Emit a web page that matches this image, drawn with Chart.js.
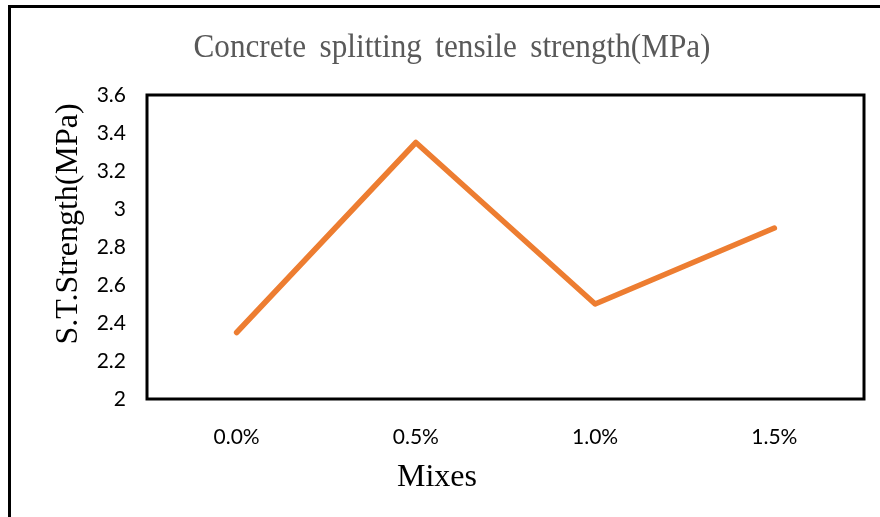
<!DOCTYPE html>
<html>
<head>
<meta charset="utf-8">
<script src="https://cdn.jsdelivr.net/npm/chart.js@4"></script>
<style>
  body { margin: 0; background: #fff; }
  #wrap { width: 880px; height: 517px; position: relative; }
</style>
</head>
<body>
<div id="wrap"><canvas id="stChart"></canvas></div>
<script>
const mixes = ["0.0%", "0.5%", "1.0%", "1.5%"];
const strength = [2.35, 3.35, 2.5, 2.9];
const yTicks = [2, 2.2, 2.4, 2.6, 2.8, 3, 3.2, 3.4, 3.6];

const chartTitle = "Concrete splitting tensile strength(MPa)";
const yTitle = "S.T.Strength(MPa)";
const xTitle = "Mixes";

// frame, plot box and the hand-placed texts, Excel style
const decor = {
    id: "decor",
    beforeDraw(chart) {
        const ctx = chart.ctx;
        ctx.save();
        ctx.fillStyle = "#fff";
        ctx.fillRect(0, 0, chart.width, chart.height);
        ctx.strokeStyle = "#000";
        ctx.lineWidth = 3;
        ctx.beginPath();
        ctx.moveTo(9.5, chart.height + 2);
        ctx.lineTo(9.5, 6.5);
        ctx.lineTo(chart.width + 2, 6.5);
        ctx.stroke();
        ctx.restore();
    },
    afterDraw(chart) {
        const ctx = chart.ctx;
        const a = chart.chartArea;
        ctx.save();
        ctx.strokeStyle = "#000";
        ctx.lineWidth = 3;
        ctx.strokeRect(a.left, a.top, a.right - a.left, a.bottom - a.top);

        ctx.textAlign = "center";
        ctx.textBaseline = "middle";
        ctx.fillStyle = "#595959";
        ctx.font = "33px 'Liberation Serif'";
        ctx.wordSpacing = "6px";
        ctx.fillText(chartTitle, 452, 48, 517);
        ctx.wordSpacing = "0px";

        ctx.fillStyle = "#000";
        ctx.font = "32px 'Liberation Serif'";
        ctx.fillText(xTitle, 437, 478);

        ctx.translate(69, 224);
        ctx.rotate(-Math.PI / 2);
        ctx.fillText(yTitle, 0, 0);
        ctx.restore();
    }
};

new Chart("stChart", {
    type: "line",
    data: {
        labels: mixes,
        datasets: [
            {
                data: strength,
                borderColor: "#ED7D31",
                borderWidth: 5.5,
                borderCapStyle: "round",
                borderJoinStyle: "round",
                pointRadius: 0,
                tension: 0,
            },
        ],
    },
    options: {
        responsive: true,
        maintainAspectRatio: false,
        animation: false,
        layout: { padding: { left: 0, right: 16, top: 95, bottom: 0 } },
        plugins: {
            legend: { display: false },
            title: { display: false },
            tooltip: { enabled: false },
        },
        scales: {
            x: {
                offset: true,
                grid: { display: false },
                border: { display: false },
                ticks: {
                    color: "#000",
                    font: { family: "Lato", size: 21 },
                    padding: 18,
                    maxRotation: 0,
                },
                afterFit(scale) { scale.height = 118; },
            },
            y: {
                min: 2,
                max: 3.6,
                afterBuildTicks(scale) {
                    scale.ticks = yTicks.map((v) => ({ value: v }));
                },
                grid: { display: false },
                border: { display: false },
                ticks: {
                    color: "#000",
                    font: { family: "Lato", size: 21 },
                    padding: 13,
                    callback: (v) => String(Math.round(v * 10) / 10),
                },
                afterFit(scale) { scale.width = 147; },
            },
        },
    },
    plugins: [decor],
});
</script>
</body>
</html>
